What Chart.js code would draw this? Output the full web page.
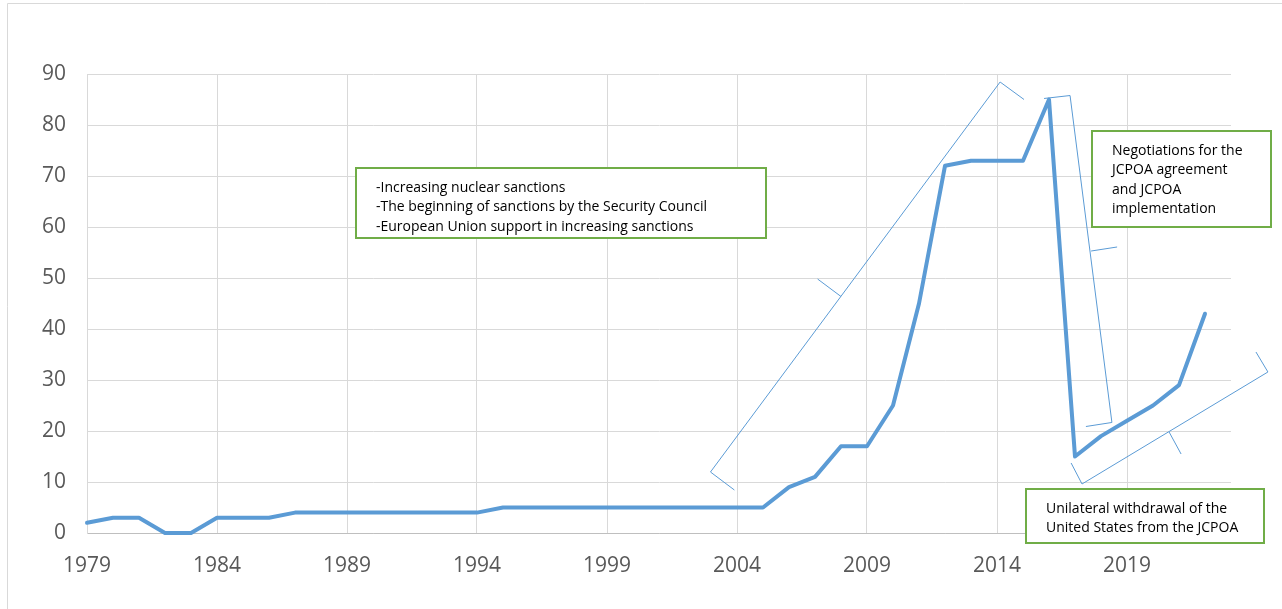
<!DOCTYPE html>
<html>
<head>
<meta charset="utf-8">
<script src="https://cdn.jsdelivr.net/npm/chart.js@4/dist/chart.umd.min.js"></script>
<style>
  html, body { margin: 0; padding: 0; background: #fff; }
  canvas { display: block; }
</style>
</head>
<body>
<canvas id="sanctionsChart" width="1282" height="609"></canvas>
<script>
// Series
const years = [1979, 1980, 1981, 1982, 1983, 1984, 1985, 1986, 1987, 1988, 1989, 1990, 1991, 1992, 1993, 1994,
  1995, 1996, 1997, 1998, 1999, 2000, 2001, 2002, 2003, 2004, 2005, 2006, 2007, 2008, 2009, 2010, 2011,
  2012, 2013, 2014, 2015, 2016, 2017, 2018, 2019, 2020, 2021, 2022];
const values = [2, 3, 3, 0, 0, 3, 3, 3, 4, 4, 4, 4, 4, 4, 4, 4,
  5, 5, 5, 5, 5, 5, 5, 5, 5, 5, 5, 9, 11, 17, 17, 25, 45,
  72, 73, 73, 73, 85, 15, 19, 22, 25, 29, 43];

// Tick labels
const xTicks = [1979, 1984, 1989, 1994, 1999, 2004, 2009, 2014, 2019];
const yTicks = [0, 10, 20, 30, 40, 50, 60, 70, 80, 90];

// Annotation texts
const noteSanctions = [
  '-Increasing nuclear sanctions',
  '-The beginning of sanctions by the Security Council',
  '-European Union support in increasing sanctions'
];
const noteJcpoa = ['Negotiations for the', 'JCPOA agreement', 'and JCPOA', 'implementation'];
const noteWithdrawal = ['Unilateral withdrawal of the', 'United States from the JCPOA'];

// Brackets and boxes placed in chart units (year, value)
const brackets = [
  { path: [[2003.90, 8.43], [2002.98, 11.96], [2014.12, 88.43], [2015.04, 85.0]], tick: [[2008.0, 46.37], [2007.10, 49.8]] },
  { path: [[2015.81, 85.2], [2016.81, 85.78], [2018.42, 21.67], [2017.42, 20.88]], tick: [[2017.62, 55.29], [2018.62, 56.08]] },
  { path: [[2016.85, 13.73], [2017.27, 9.61], [2024.42, 31.57], [2023.96, 35.49]], tick: [[2020.62, 19.8], [2021.08, 15.49]] }
];
const boxes = [
  { x0: 1989.35, x1: 2005.12, y0: 71.57, y1: 57.84, lines: noteSanctions },
  { x0: 2017.65, x1: 2024.54, y0: 78.82, y1: 60.0, lines: noteJcpoa },
  { x0: 2015.12, x1: 2024.27, y0: 8.63, y1: -1.96, lines: noteWithdrawal }
];

const blue = '#5b9bd5';

const notesPlugin = {
  id: 'notes',
  beforeDraw(chart) {
    const ctx = chart.ctx;
    ctx.save();
    ctx.strokeStyle = '#d9d9d9';
    ctx.lineWidth = 1;
    ctx.beginPath();
    ctx.moveTo(7.5, chart.height);
    ctx.lineTo(7.5, 3.5);
    ctx.lineTo(chart.width, 3.5);
    ctx.stroke();
    ctx.restore();
  },
  afterDatasetsDraw(chart) {
    const ctx = chart.ctx;
    const xs = chart.scales.x, ys = chart.scales.y;
    const px = p => [xs.getPixelForValue(p[0]), ys.getPixelForValue(p[1])];
    ctx.save();
    ctx.strokeStyle = blue;
    ctx.lineWidth = 1;
    brackets.forEach(b => {
      ctx.beginPath();
      b.path.forEach((p, i) => {
        const [x, y] = px(p);
        if (i === 0) ctx.moveTo(x, y); else ctx.lineTo(x, y);
      });
      ctx.stroke();
      const [ax, ay] = px(b.tick[0]);
      const [bx, by] = px(b.tick[1]);
      ctx.beginPath();
      ctx.moveTo(ax, ay);
      ctx.lineTo(bx, by);
      ctx.stroke();
    });

    ctx.font = '14px "Open Sans"';
    ctx.textBaseline = 'middle';
    ctx.textAlign = 'left';
    boxes.forEach(b => {
      const left = Math.round(xs.getPixelForValue(b.x0));
      const right = Math.round(xs.getPixelForValue(b.x1));
      const top = Math.round(ys.getPixelForValue(b.y0));
      const bottom = Math.round(ys.getPixelForValue(b.y1));
      ctx.fillStyle = '#ffffff';
      ctx.fillRect(left, top, right - left, bottom - top);
      ctx.strokeStyle = '#70ad47';
      ctx.lineWidth = 2;
      ctx.strokeRect(left, top, right - left, bottom - top);
      ctx.fillStyle = '#000000';
      b.lines.forEach((t, i) => ctx.fillText(t, left + 20, top + 20 + i * 19.5));
    });
    ctx.restore();
  }
};

const ctxLine = document.getElementById('sanctionsChart').getContext('2d');
const sanctionsChart = new Chart(ctxLine, {
  type: 'line',
  data: {
    datasets: [{
      data: years.map((yr, i) => ({ x: yr, y: values[i] })),
      borderColor: blue,
      borderWidth: 4,
      pointRadius: 0,
      tension: 0,
      borderJoinStyle: 'round',
      borderCapStyle: 'round',
      clip: false
    }]
  },
  options: {
    responsive: false,
    animation: false,
    layout: { padding: { top: 74, right: 51, left: 0, bottom: 0 } },
    plugins: { legend: { display: false }, tooltip: { enabled: false } },
    scales: {
      x: {
        type: 'linear',
        min: 1979,
        max: 2023,
        afterBuildTicks: s => { s.ticks = xTicks.map(v => ({ value: v })); },
        afterFit: s => { s.height = 76; },
        grid: { color: '#d9d9d9', drawTicks: false },
        border: { color: '#bfbfbf' },
        ticks: { padding: 20, color: '#595959', font: { family: 'Open Sans', size: 21 }, maxRotation: 0, autoSkip: false, callback: v => String(v) }
      },
      y: {
        min: 0,
        max: 90,
        afterBuildTicks: s => { s.ticks = yTicks.map(v => ({ value: v })); },
        afterFit: s => { s.width = 87; },
        grid: { color: '#d9d9d9', drawTicks: false },
        border: { color: '#d9d9d9' },
        ticks: { padding: 21, color: '#595959', font: { family: 'Open Sans', size: 21 } }
      }
    }
  },
  plugins: [notesPlugin]
});
</script>
</body>
</html>
